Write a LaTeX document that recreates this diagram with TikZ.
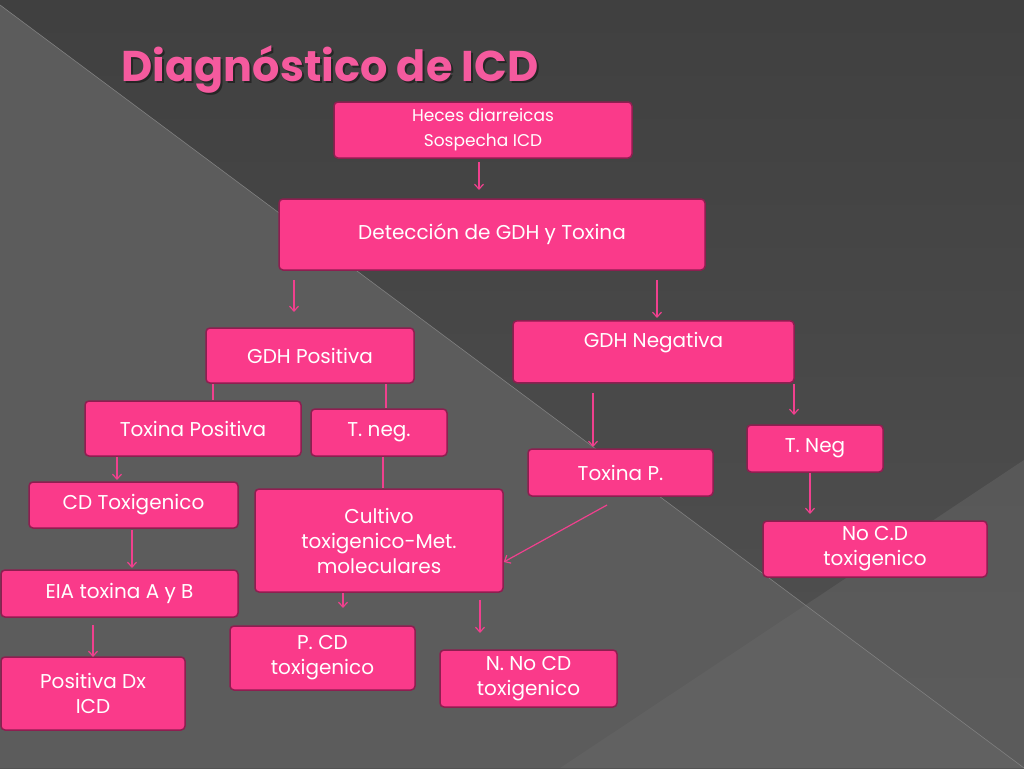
\documentclass[tikz,border=0pt]{standalone}
\usepackage{fontspec}
\setmainfont{Poppins}
\usetikzlibrary{arrows.meta}
\definecolor{bx}{HTML}{FA3A8A}
\definecolor{bd}{HTML}{8E1E50}
\definecolor{ar}{HTML}{F0408E}
\definecolor{tt}{HTML}{F55A9E}
\begin{document}
\begin{tikzpicture}[x=1pt,y=-1pt,
  box/.style={draw=bd,line width=1.5pt,fill=bx,rounded corners=4pt,text=white,align=center,inner sep=0pt,font=\fontsize{20}{25}\selectfont},
  arr/.style={draw=ar,line width=1.2pt,-{Straight Barb[length=5pt,width=9pt]}},
  ln/.style={draw=ar,line width=1.2pt}]
\useasboundingbox (0,0) rectangle (1024,768);
\shade[top color=black!75,bottom color=black!68] (0,0) rectangle (1024,768);
\fill[black!64] (0,5) -- (1024,768) -- (0,768) -- cycle;
\fill[black!60,opacity=0.5] (560,768) -- (1024,460) -- (1024,768) -- cycle;
\draw[black!50,line width=0.6pt] (0,5) -- (1024,768);
\node[font=\fontsize{43}{45}\selectfont\bfseries,text=black!85] at (332,71) {Diagnóstico de ICD};
\node[font=\fontsize{43}{45}\selectfont\bfseries,text=tt] (title) at (330,69) {Diagnóstico de ICD};
\newcommand{\bxn}[6]{\node[box,minimum width=#3-#1,minimum height=#4-#2] (#5) at ({(#1+#3)/2},{(#2+#4)/2}) {#6};}
\bxn{334}{102}{632}{158}{heces}{\fontsize{17}{23}\selectfont Heces diarreicas\\\fontsize{17}{23}\selectfont Sospecha ICD}
\bxn{279}{199}{705}{270}{det}{Detección de GDH y  Toxina}
\bxn{206}{328}{414}{383}{gp}{GDH Positiva}
\node[box,minimum width=281,minimum height=62,anchor=north,text depth=22pt,text height=14pt] (gn) at (653.5,320) {GDH Negativa};
\bxn{85}{401}{301}{456}{tp}{Toxina Positiva}
\bxn{311}{409}{447}{456}{tn}{T. neg.}
\bxn{528}{449}{713}{496}{tP}{Toxina P.}
\bxn{747}{425}{883}{472}{tN}{T. Neg}
\bxn{29}{482}{238}{528}{cd}{CD Toxigenico}
\bxn{255}{489}{503}{592}{cul}{Cultivo\\toxigenico-Met.\\moleculares}
\bxn{763}{521}{987}{577}{nocd}{No C.D\\toxigenico}
\bxn{1}{570}{238}{617}{eia}{EIA toxina A y B}
\bxn{230}{626}{415}{690}{pcd}{P. CD\\toxigenico}
\bxn{440}{650}{617}{707}{ncd}{N. No CD\\toxigenico}
\bxn{1}{657}{185}{730}{pos}{Positiva Dx\\ICD}
\coordinate (a1) at (479,162); \coordinate (a2) at (479,190);
\coordinate (b1) at (294,280); \coordinate (b2) at (294,312);
\coordinate (c1) at (657,280); \coordinate (c2) at (657,318);
\draw[arr] (a1) -- (a2);
\draw[arr] (b1) -- (b2);
\draw[arr] (c1) -- (c2);
\draw[ln] (gp.south -| 213,0) -- (tp.north -| 213,0);
\draw[ln] (gp.south -| 386,0) -- (tn.north -| 386,0);
\draw[arr] (tp.south -| 117,0) -- (117,480);
\draw[ln] (tn.south -| 383,0) -- (cul.north -| 383,0);
\draw[arr] (593,393) -- (593,447);
\draw[arr] (794,384) -- (794,415);
\draw[arr] (132,530) -- (132,568);
\draw[arr] (607,505) -- (cul.east |- 0,562);
\draw[arr] (810,473) -- (810,514);
\draw[arr] (cul.south -| 343,0) -- (343,608);
\draw[arr] (480,600) -- (480,633);
\draw[arr] (93,625) -- (93,657);
\end{tikzpicture}
\end{document}
